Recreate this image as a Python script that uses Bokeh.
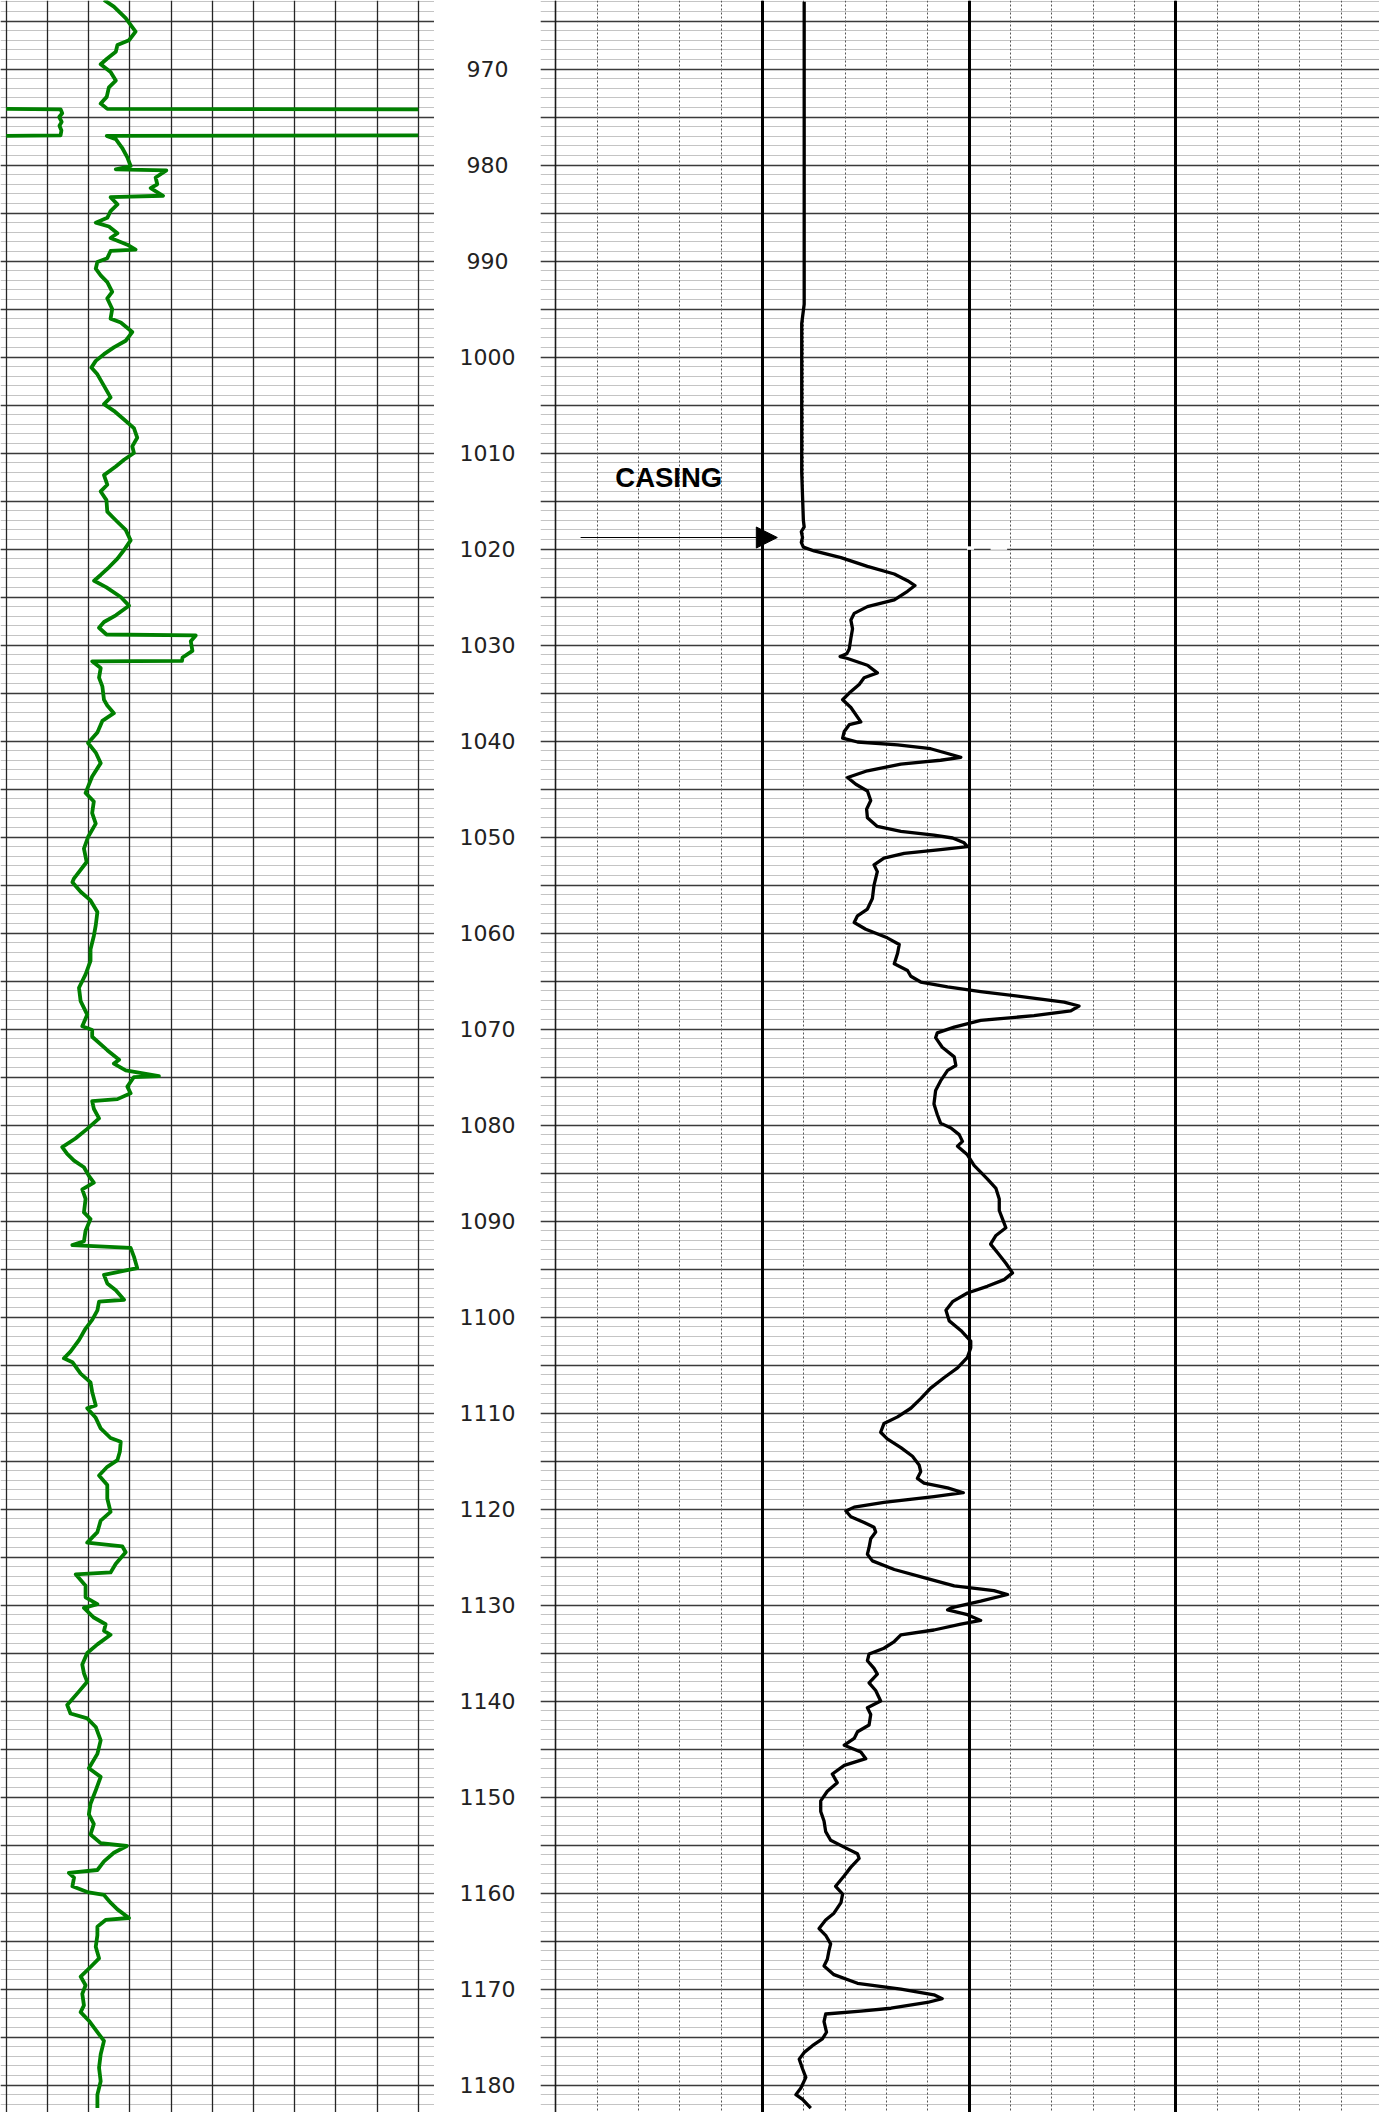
import numpy as np
from bokeh.plotting import figure
from bokeh.layouts import row
from bokeh.models import (Range1d, Grid, SingleIntervalTicker, FixedTicker,
                          Arrow, NormalHead, Label, ColumnDataSource)
from bokeh.core.properties import value
from bokeh.embed import file_html
from bokeh.resources import INLINE

# ---------------- data ----------------
depth_labels = list(range(970, 1181, 10))

gr_depth = [962.8, 963.5, 964.7, 966.1, 967.0, 967.5, 968.2, 968.9, 969.5, 970.3,
            971.2, 971.9, 972.9, 973.6, 974.15, 974.2, 974.6, 975.0, 975.5, 975.9,
            976.4, 976.9, 976.96, 977.3, 978.2, 979.2, 980.1, 980.45, 980.55, 981.3,
            982.0, 982.4, 983.2, 983.35, 984.1, 984.8, 985.5, 986.0, 986.4, 987.1,
            987.6, 988.3, 988.8, 988.95, 989.7, 990.1, 990.8, 991.5, 992.2, 993.2,
            993.9, 995.0, 996.0, 996.4, 997.4, 998.3, 999.0, 999.7, 1000.4, 1001.1,
            1001.8, 1003.0, 1004.2, 1004.9, 1005.6, 1006.5, 1007.4, 1008.4, 1009.3, 1010.0,
            1010.7, 1011.4, 1012.3, 1013.3, 1014.0, 1014.9, 1016.1, 1017.0, 1018.0, 1019.1,
            1020.1, 1021.0, 1021.9, 1022.7, 1023.3, 1024.0, 1025.0, 1025.9, 1026.9, 1027.6,
            1028.2, 1028.9, 1029.0, 1029.6, 1030.6, 1031.3, 1031.65, 1031.7, 1032.4, 1033.4,
            1034.3, 1035.7, 1036.3, 1037.1, 1037.9, 1039.1, 1040.2, 1041.2, 1042.3, 1043.7,
            1045.4, 1046.3, 1047.5, 1048.6, 1050.0, 1051.2, 1052.6, 1054.3, 1054.7, 1055.7,
            1056.6, 1057.8, 1059.2, 1060.3, 1061.7, 1062.9, 1064.3, 1065.7, 1067.1, 1068.5,
            1069.7, 1070.1, 1070.8, 1072.2, 1073.2, 1073.6, 1074.3, 1074.9, 1075.0, 1076.0,
            1076.7, 1077.3, 1077.5, 1078.3, 1079.3, 1080.4, 1081.4, 1082.3, 1083.0, 1083.7,
            1084.4, 1085.3, 1086.0, 1086.7, 1087.7, 1089.1, 1089.8, 1091.0, 1092.1, 1092.5,
            1092.8, 1093.7, 1094.9, 1095.6, 1096.5, 1097.2, 1098.2, 1098.4, 1099.3, 1100.3,
            1101.2, 1102.4, 1103.6, 1104.3, 1104.7, 1105.9, 1106.8, 1107.8, 1109.2, 1109.5,
            1110.5, 1111.6, 1112.6, 1113.0, 1114.0, 1114.9, 1115.6, 1116.5, 1117.5, 1118.9,
            1120.3, 1121.2, 1122.4, 1123.5, 1123.9, 1124.5, 1125.7, 1126.6, 1126.8, 1128.0,
            1129.2, 1129.9, 1130.3, 1131.3, 1132.0, 1132.7, 1133.1, 1134.1, 1135.0, 1136.2,
            1137.1, 1138.0, 1139.2, 1140.4, 1141.3, 1141.8, 1142.7, 1144.1, 1145.5, 1147.0,
            1147.9, 1149.3, 1150.7, 1151.8, 1152.8, 1153.9, 1154.8, 1155.1, 1155.8, 1156.7,
            1157.6, 1157.9, 1158.4, 1159.3, 1159.9, 1160.2, 1161.0, 1161.7, 1162.6, 1162.8,
            1163.5, 1164.4, 1165.6, 1166.8, 1167.7, 1168.7, 1169.6, 1170.5, 1171.7, 1172.4,
            1173.3, 1174.5, 1175.4, 1176.8, 1178.2, 1179.6, 1181.0, 1182.4]

gr_api = [35.6, 39.2, 43.5, 47.1, 44.7, 40.5, 39.9, 36.8, 34.4, 38.0,
          39.9, 37.4, 36.6, 34.4, 36.8, 169.8, 170.4, 169.3, 170.2, 169.4,
          170.1, 169.8, 36.6, 39.9, 42.2, 44.1, 45.3, 39.9, 58.3, 54.4,
          55.0, 52.6, 57.1, 38.0, 40.5, 38.0, 36.8, 32.6, 37.4, 40.5,
          38.0, 44.1, 47.1, 38.0, 36.8, 33.2, 32.6, 34.4, 36.8, 38.6,
          36.8, 38.6, 38.0, 41.7, 45.9, 43.5, 39.2, 35.6, 32.6, 31.0,
          33.2, 35.6, 38.0, 35.6, 39.2, 42.9, 46.5, 47.7, 45.9, 46.5,
          42.9, 39.9, 35.6, 36.8, 34.4, 36.5, 36.8, 39.9, 43.5, 45.3,
          42.9, 40.5, 37.4, 34.4, 32.0, 36.5, 41.7, 44.7, 39.9, 35.6,
          33.8, 36.5, 69.0, 67.2, 67.8, 64.2, 64.0, 31.3, 34.4, 33.8,
          35.0, 35.6, 36.8, 39.2, 35.0, 33.2, 29.8, 32.6, 34.4, 31.3,
          28.9, 31.9, 31.3, 32.6, 29.8, 28.3, 29.3, 24.7, 24.1, 27.1,
          30.7, 33.2, 32.6, 31.9, 30.7, 30.7, 28.9, 26.5, 27.1, 29.5,
          27.7, 31.3, 31.3, 36.8, 41.1, 39.2, 43.5, 55.6, 46.5, 44.1,
          45.3, 40.5, 31.3, 31.9, 33.8, 29.5, 25.2, 20.4, 22.2, 24.7,
          28.3, 30.1, 31.9, 27.7, 28.9, 28.3, 30.7, 28.9, 28.3, 24.1,
          45.3, 46.5, 47.7, 35.6, 36.8, 39.9, 42.9, 33.8, 33.2, 31.3,
          28.9, 26.5, 23.4, 21.0, 24.1, 27.1, 30.7, 31.3, 32.6, 29.5,
          32.6, 34.4, 38.0, 41.7, 41.4, 40.5, 36.8, 33.8, 36.8, 36.8,
          38.0, 34.4, 33.2, 29.5, 42.3, 43.5, 39.9, 38.0, 25.3, 28.9,
          28.9, 33.2, 28.3, 31.9, 36.2, 35.6, 38.0, 33.2, 29.5, 27.7,
          28.3, 29.5, 25.9, 22.2, 23.4, 29.5, 32.6, 34.4, 33.2, 30.1,
          34.4, 32.6, 30.7, 30.1, 31.9, 30.7, 34.4, 43.9, 39.2, 35.6,
          33.2, 22.8, 24.7, 24.1, 29.5, 35.6, 38.0, 40.5, 44.7, 36.2,
          33.2, 33.2, 32.6, 33.8, 30.7, 27.1, 28.9, 27.7, 28.3, 27.1,
          30.1, 33.2, 35.6, 34.4, 33.8, 34.4, 33.2, 33.2]

res_depth = [963.0, 994.5, 996.5, 1012.0, 1017.0, 1017.7, 1018.2, 1018.8, 1019.3, 1019.8,
             1020.2, 1020.9, 1021.8, 1022.6, 1023.3, 1023.8, 1024.4, 1025.3, 1026.0, 1026.7,
             1027.4, 1028.3, 1029.3, 1030.4, 1030.9, 1031.2, 1031.4, 1032.1, 1032.9, 1033.4,
             1034.1, 1035.0, 1035.7, 1036.5, 1038.0, 1038.3, 1039.0, 1039.7, 1040.1, 1040.4,
             1040.8, 1041.3, 1041.7, 1042.0, 1042.4, 1043.1, 1043.8, 1044.5, 1045.2, 1046.2,
             1047.1, 1048.0, 1048.9, 1049.4, 1049.8, 1050.1, 1050.6, 1051.0, 1051.3, 1051.7,
             1052.2, 1052.9, 1053.6, 1055.0, 1056.4, 1057.5, 1058.2, 1058.9, 1059.6, 1060.5,
             1061.2, 1062.1, 1063.2, 1063.9, 1064.5, 1065.1, 1065.6, 1066.1, 1066.7, 1067.2,
             1067.6, 1068.1, 1068.6, 1069.1, 1069.8, 1070.4, 1070.9, 1071.9, 1072.9, 1073.8,
             1074.3, 1075.4, 1076.4, 1077.8, 1078.9, 1079.8, 1080.3, 1081.0, 1081.7, 1082.2,
             1083.1, 1084.2, 1085.6, 1086.6, 1087.7, 1088.9, 1089.8, 1090.7, 1091.5, 1092.4,
             1093.3, 1094.4, 1095.4, 1096.1, 1096.8, 1097.5, 1098.4, 1099.3, 1100.4, 1101.4,
             1102.5, 1103.2, 1104.2, 1105.3, 1106.3, 1107.4, 1108.5, 1109.5, 1110.4, 1111.1,
             1112.0, 1112.7, 1113.6, 1114.5, 1115.4, 1116.1, 1116.8, 1117.3, 1117.8, 1118.3,
             1118.7, 1119.3, 1119.8, 1120.2, 1120.8, 1121.4, 1121.9, 1122.4, 1123.1, 1124.0,
             1124.7, 1125.4, 1126.3, 1127.2, 1128.0, 1128.5, 1128.9, 1129.6, 1130.3, 1130.5,
             1131.0, 1131.6, 1132.0, 1132.6, 1133.1, 1133.8, 1134.5, 1135.1, 1135.8, 1136.6,
             1137.2, 1138.1, 1138.9, 1140.0, 1140.7, 1141.4, 1142.5, 1143.2, 1143.9, 1144.6,
             1145.3, 1146.0, 1146.7, 1147.6, 1148.5, 1149.4, 1150.4, 1151.5, 1152.5, 1153.6,
             1154.5, 1155.4, 1155.9, 1156.4, 1157.3, 1158.2, 1159.3, 1160.1, 1161.0, 1162.1,
             1162.8, 1163.7, 1164.4, 1165.3, 1166.0, 1166.9, 1167.6, 1168.5, 1169.4, 1170.0,
             1170.6, 1171.0, 1171.4, 1172.0, 1172.3, 1172.6, 1173.4, 1174.5, 1175.2, 1175.9,
             1176.6, 1177.3, 1178.3, 1179.2, 1180.3, 1181.0, 1181.5, 1182.4]

res_val = [6.01, 6.01, 5.95, 5.95, 5.99, 6.01, 5.94, 5.97, 5.94, 5.99,
           6.25, 6.90, 7.54, 8.19, 8.51, 8.69, 8.51, 8.19, 7.54, 7.22,
           7.14, 7.18, 7.14, 7.10, 7.04, 6.88, 7.06, 7.54, 7.78, 7.46,
           7.34, 7.10, 6.94, 7.14, 7.38, 7.10, 6.98, 6.94, 7.30, 8.27,
           9.07, 9.48, 9.80, 9.31, 8.35, 7.54, 7.06, 7.26, 7.54, 7.62,
           7.52, 7.54, 7.78, 8.35, 9.15, 9.60, 9.88, 9.96, 9.31, 8.43,
           7.94, 7.70, 7.78, 7.70, 7.66, 7.54, 7.30, 7.22, 7.50, 8.02,
           8.31, 8.27, 8.19, 8.51, 8.59, 8.83, 9.48, 10.28, 11.41, 12.30,
           12.66, 12.46, 11.57, 10.28, 9.64, 9.23, 9.19, 9.35, 9.64, 9.68,
           9.48, 9.31, 9.19, 9.15, 9.23, 9.31, 9.56, 9.76, 9.84, 9.72,
           9.96, 10.12, 10.44, 10.65, 10.73, 10.73, 10.81, 10.89, 10.65, 10.52,
           10.69, 10.89, 11.05, 10.85, 10.44, 9.96, 9.60, 9.44, 9.52, 9.80,
           10.04, 10.04, 9.96, 9.72, 9.40, 9.07, 8.83, 8.59, 8.27, 7.94,
           7.86, 8.02, 8.35, 8.63, 8.79, 8.83, 8.75, 8.91, 9.48, 9.86,
           9.15, 7.94, 7.22, 7.02, 7.14, 7.46, 7.70, 7.74, 7.62, 7.58,
           7.54, 7.66, 8.19, 8.95, 9.64, 10.60, 10.93, 10.28, 9.56, 9.48,
           9.96, 10.28, 9.80, 9.15, 8.35, 8.19, 7.94, 7.58, 7.54, 7.70,
           7.78, 7.58, 7.74, 7.86, 7.54, 7.62, 7.58, 7.30, 7.22, 6.98,
           7.38, 7.50, 6.98, 6.69, 6.81, 6.57, 6.41, 6.41, 6.49, 6.53,
           6.65, 7.06, 7.30, 7.34, 7.14, 6.98, 6.77, 6.94, 6.90, 6.73,
           6.53, 6.37, 6.53, 6.65, 6.61, 6.57, 6.49, 6.73, 7.30, 8.35,
           9.15, 9.35, 8.99, 8.11, 7.38, 6.53, 6.49, 6.55, 6.45, 6.21,
           6.01, 5.89, 5.97, 6.05, 5.93, 5.81, 5.97, 6.17]

GR_MAX = 150.0   # left-track full scale (backup curve wraps beyond it)

# ---------------- derived series ----------------
gr = np.array(gr_api, dtype=float)
gd = np.array(gr_depth, dtype=float)
over = gr > GR_MAX
gr_main = np.minimum(gr, GR_MAX)
for i in range(1, len(gr) - 1):
    if over[i] and over[i - 1] and over[i + 1]:
        gr_main[i] = np.nan
gr_backup = np.full_like(gr, np.nan)
for i in range(len(gr)):
    if over[i]:
        gr_backup[i] = gr[i] - GR_MAX
    elif (i > 0 and over[i - 1]) or (i < len(gr) - 1 and over[i + 1]):
        gr_backup[i] = 0.0

# ---------------- layout ----------------
H = 2112
TOP, BOTTOM = 962.86, 1182.86


def make_fig(w, x0, x1):
    p = figure(width=w, height=H, x_range=Range1d(x0, x1),
               y_range=Range1d(BOTTOM, TOP),
               x_axis_type=None, y_axis_type=None, toolbar_location=None,
               output_backend="svg", min_border=0, outline_line_color=None,
               background_fill_color="white", border_fill_color="white")
    return p


def add_depth_grid(p):
    p.add_layout(Grid(dimension=1,
                      ticker=SingleIntervalTicker(interval=5, num_minor_ticks=5),
                      grid_line_color="#3a3a3a", grid_line_width=1.5,
                      minor_grid_line_color="#c4c4c4", minor_grid_line_width=1.2))


# left track (gamma ray)
p_left = make_fig(434, -2.075, 155.93)
add_depth_grid(p_left)
p_left.add_layout(Grid(dimension=0, ticker=SingleIntervalTicker(interval=15),
                       grid_line_color="#262626", grid_line_width=1.3))
src_gr = ColumnDataSource(dict(depth=gd, main=gr_main, backup=gr_backup))
p_left.line("backup", "depth", source=src_gr, line_color="#008000",
            line_width=3.8, line_join="round")
p_left.line("main", "depth", source=src_gr, line_color="#008000",
            line_width=3.8, line_join="round")

# depth column
p_depth = make_fig(106, 0, 1)
src_lab = ColumnDataSource(dict(x=[0.5] * len(depth_labels), y=depth_labels,
                                t=[str(d) for d in depth_labels]))
p_depth.text("x", "y", text="t", source=src_lab, text_align="center",
             text_baseline="middle", text_font=value("DejaVu Sans"),
             text_font_size="22px", text_color="#222222")

# right track (resistivity)
p_right = make_fig(839, -0.37, 19.93)
add_depth_grid(p_right)
p_right.add_layout(Grid(dimension=0, ticker=SingleIntervalTicker(interval=1),
                        grid_line_color="#555555", grid_line_width=1,
                        grid_line_dash="2 2"))
p_right.add_layout(Grid(dimension=0, ticker=FixedTicker(ticks=[0]),
                        grid_line_color="#1a1a1a", grid_line_width=1.6))
p_right.add_layout(Grid(dimension=0, ticker=FixedTicker(ticks=[5, 10, 15]),
                        grid_line_color="black", grid_line_width=3))
p_right.line(res_val, res_depth, line_color="black", line_width=3.3,
             line_join="round")

# faint white marker on the 1020 ft line
p_right.segment(x0=[9.95, 10.52], y0=[1019.9, 1019.9], x1=[10.12, 10.92],
                y1=[1019.9, 1019.9], line_color="white", line_width=3.5)

p_right.add_layout(Label(x=1.44, y=1012.57, text="CASING",
                         text_font="Liberation Sans", text_font_style="bold",
                         text_font_size="27.5px", text_color="black",
                         text_baseline="alphabetic", text_align="left"))
p_right.add_layout(Arrow(end=NormalHead(size=21, fill_color="black",
                                        line_color="black", line_width=1),
                         x_start=0.60, y_start=1018.8, x_end=5.36, y_end=1018.8,
                         line_color="black", line_width=1.2))

layout = row(p_left, p_depth, p_right, spacing=0)

open("out.html", "w").write(file_html(layout, INLINE))
